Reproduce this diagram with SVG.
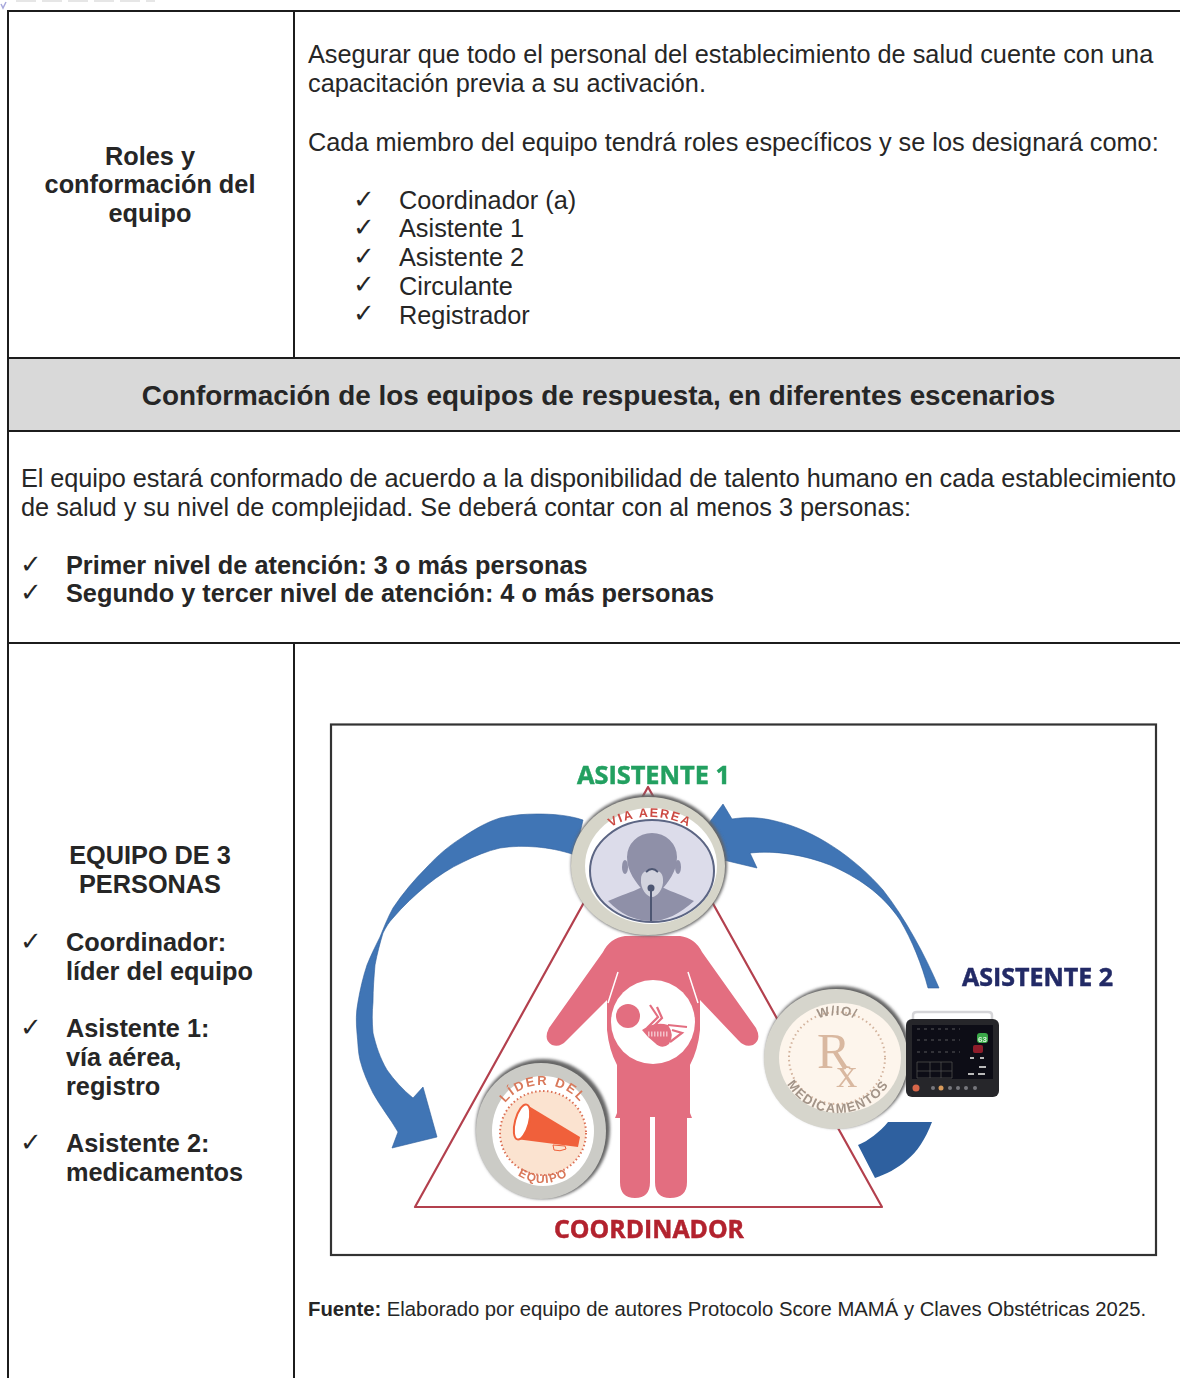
<svg xmlns="http://www.w3.org/2000/svg" xmlns:xlink="http://www.w3.org/1999/xlink" width="1180" height="1378" viewBox="0 0 1180 1378">
<style>
text{font-family:"Liberation Sans",Arial,sans-serif;fill:#262626}
.t{font-size:25.3px}
.b{font-size:25.3px;font-weight:700}
.c{text-anchor:middle}
.k{font-family:"DejaVu Sans",sans-serif;font-size:26px;fill:#262626}
.grid{stroke:#1c1c1c;stroke-width:2;fill:none}
.lab{font-family:"Open Sans",sans-serif;font-weight:700;font-size:25px;stroke-width:.5}
.arc{font-family:"Liberation Sans",sans-serif;font-weight:700}
.blue{fill:#3f74b5;stroke:#2f5f9c;stroke-width:.6}
</style>
<defs>
<filter id="soft" x="-5%" y="-5%" width="110%" height="110%"><feGaussianBlur stdDeviation="0.55"/></filter>
<filter id="shade" x="-20%" y="-20%" width="140%" height="140%"><feGaussianBlur stdDeviation="1.6"/></filter>
<path id="a1" d="M596 850A54 33 0 0 1 704 850"/>
<path id="a2" d="M498 1125A45 40 0 0 1 588 1125"/>
<path id="a3" d="M497 1135A46 48 0 0 0 589 1135"/>
<path id="a4" d="M790 1060A47 45 0 0 1 884 1060"/>
<path id="a5" d="M778 1052A60 61 0 0 0 898 1052"/>
</defs>
<rect width="1180" height="1378" fill="#fff"/>
<g id="scan-edge"><path d="M16 1H155" stroke="#e6e6e6" stroke-width="2" stroke-dasharray="20 6"/><path d="M1 4L3 8L6 2" stroke="#a9a9dc" stroke-width="1.500" fill="none"/></g>
<g id="table">
<rect x="8" y="359" width="1172" height="72" fill="#d9d9d9"/>
<path class="grid" d="M1180 11H8V1378M294 11V358M8 358H1180M8 431H1180M8 643H1180M294 643V1378"/>
</g>
<g id="roles">
<text class="b c" x="150" y="165">Roles y</text>
<text class="b c" x="150" y="193">conformación del</text>
<text class="b c" x="150" y="222">equipo</text>
<text class="t" x="308" y="63">Asegurar que todo el personal del establecimiento de salud cuente con una</text>
<text class="t" x="308" y="92">capacitación previa a su activación.</text>
<text class="t" x="308" y="151">Cada miembro del equipo tendrá roles específicos y se los designará como:</text>
<text class="k" x="353" y="208">✓</text><text class="t" x="399" y="209">Coordinador (a)</text>
<text class="k" x="353" y="236">✓</text><text class="t" x="399" y="237">Asistente 1</text>
<text class="k" x="353" y="265">✓</text><text class="t" x="399" y="266">Asistente 2</text>
<text class="k" x="353" y="293">✓</text><text class="t" x="399" y="295">Circulante</text>
<text class="k" x="353" y="322">✓</text><text class="t" x="399" y="324">Registrador</text>
</g>
<g id="band">
<text class="c" x="598.500" y="405" font-size="27.870" font-weight="700">Conformación de los equipos de respuesta, en diferentes escenarios</text>
</g>
<g id="intro">
<text class="t" x="21" y="487" textLength="1155">El equipo estará conformado de acuerdo a la disponibilidad de talento humano en cada establecimiento</text>
<text class="t" x="21" y="516">de salud y su nivel de complejidad. Se deberá contar con al menos 3 personas:</text>
<text class="k" x="20" y="573">✓</text><text class="b" x="66" y="574">Primer nivel de atención: 3 o más personas</text>
<text class="k" x="20" y="601">✓</text><text class="b" x="66" y="602">Segundo y tercer nivel de atención: 4 o más personas</text>
</g>
<g id="team">
<text class="b c" x="150" y="864">EQUIPO DE 3</text>
<text class="b c" x="150" y="893">PERSONAS</text>
<text class="k" x="20" y="950">✓</text><text class="b" x="66" y="951">Coordinador:</text>
<text class="b" x="66" y="980">líder del equipo</text>
<text class="k" x="20" y="1036">✓</text><text class="b" x="66" y="1037">Asistente 1:</text>
<text class="b" x="66" y="1066">vía aérea,</text>
<text class="b" x="66" y="1095">registro</text>
<text class="k" x="20" y="1151">✓</text><text class="b" x="66" y="1152">Asistente 2:</text>
<text class="b" x="66" y="1181">medicamentos</text>
</g>
<g id="figure">
<rect x="331" y="724.500" width="825" height="530.500" fill="#fff" stroke="#333" stroke-width="2.200"/>
<g filter="url(#soft)">
<g id="connectors">
<path id="triangle" d="M648 787L415 1207H882Z" fill="none" stroke="#b3404e" stroke-width="2.200" stroke-linejoin="round"/>
<path id="arrow-left" class="blue" d="M583 820C568 815 552 814 537 814C524 814 512 815 500 818C487 822 475 829 463 837C450 845 438 855 427 867C414 880 403 893 393 908C388 917 384 927 380 937C375 947 371 955 367 965C363 977 360 990 358 1002C356 1012 356 1022 357 1033C358 1042 358 1052 360 1060C363 1072 368 1083 373 1093C380 1106 390 1118 398 1132L392 1148L437 1137L423 1087L413 1098C403 1090 394 1080 387 1070C380 1058 376 1046 373 1033C372 1022 372 1012 373 1002C373 989 374 977 375 965C377 954 380 943 383 933C386 927 389 922 393 918C403 906 415 895 427 885C438 876 450 868 463 862C475 856 487 851 500 848C512 846 525 846 537 847C548 848 560 850 575 855Z"/>
<path id="arrow-right" class="blue" d="M700 835L723 804L732 819C745 817 760 817 775 821C815 830 855 858 883 890C905 918 925 955 939 988H928C922 965 912 940 900 920C882 893 857 877 830 865C805 855 775 850 750 853L757 868L715 858Z"/>
<path id="arrow-low" fill="#2f619f" d="M888 1122H932C925 1140 917 1152 907 1160C897 1169 886 1174 875 1178L858 1145C868 1141 880 1132 888 1122Z"/>
</g>
<g id="body">
<path fill="#e36e80" d="M625 936H680Q695 938 702 952L756 1028Q762 1040 753 1045Q745 1048 738 1040L700 1000V1030Q698 1050 690 1065V1113L692 1118L687 1118V1182Q687 1198 670 1198Q655 1198 655 1182V1117H650V1182Q650 1198 635 1198Q620 1198 620 1182V1118L615 1118L617 1113V1065Q609 1050 607 1030V1000L567 1040Q560 1048 552 1045Q543 1040 549 1028L603 952Q610 938 625 936Z"/>
<path d="M618 972L608 1003M688 972L698 1003" stroke="#fff" stroke-width="1.500" fill="none"/>
<circle cx="653" cy="1022" r="42" fill="#fff"/>
<ellipse cx="628" cy="1016" rx="12" ry="12" fill="#e36e80"/>
<path d="M642 1030Q655 1021 668 1025Q675 1035 669 1044Q662 1050 655 1043Q648 1038 642 1030Z" fill="#e36e80"/>
<path d="M650 1005L658 1017L647 1028M657 1007L662 1018L654 1026M668 1025L687 1027M672 1030L682 1033L670 1042" fill="none" stroke="#e36e80" stroke-width="2.200"/>
<path d="M648 1034H668" stroke="#f3c2ca" stroke-width="5" stroke-dasharray="1.500 1.500"/>
</g>
<g id="asistente-1">
<ellipse cx="649" cy="865" rx="78" ry="71" fill="#666" filter="url(#shade)"/>
<ellipse cx="648" cy="866" rx="77" ry="69" fill="#d6d5c9"/>
<ellipse cx="651" cy="866" rx="66" ry="58" fill="#fff"/>
<ellipse cx="652" cy="871" rx="62" ry="51" fill="#dcdcea" stroke="#5b6583" stroke-width="2"/>
<path d="M608 901C622 895 632 892 640 888H664C672 892 682 895 694 901C680 914 665 921 652 921C635 921 620 914 608 901Z" fill="#8f90a8"/>
<ellipse cx="625" cy="867" rx="3" ry="7" fill="#8f90a8"/>
<ellipse cx="678" cy="867" rx="3" ry="7" fill="#8f90a8"/>
<path d="M627 857A25 24 0 0 1 677 857C677 872 668 882 660 892H644C636 882 627 872 627 857Z" fill="#8f90a8"/>
<path d="M641 879C641 866 663 866 663 879C664 889 657 897 652 897C647 897 640 889 641 879Z" fill="#d2d3de"/>
<path d="M646 872Q652 866 658 872M651 887V921" fill="none" stroke="#4d5672" stroke-width="2"/>
<circle cx="651" cy="888" r="3.500" fill="#4d5672"/>
<text class="arc" font-size="12.500" style="fill:#cc4a42" letter-spacing="1.600"><textPath xlink:href="#a1" href="#a1" startOffset="50%" text-anchor="middle">VIA AEREA</textPath></text>
</g>
<g id="lider">
<ellipse cx="543" cy="1129" rx="67" ry="70" fill="#666" filter="url(#shade)"/>
<ellipse cx="541" cy="1131" rx="65" ry="68" fill="#cbcbc6"/>
<ellipse cx="543" cy="1131" rx="51" ry="55" fill="#fff"/>
<ellipse cx="543" cy="1133" rx="43" ry="42" fill="#fbe3d0" stroke="#dc7054" stroke-width="2" stroke-dasharray="1.500 2.500"/>
<path d="M527 1105L580 1137L578 1147L516 1139Z" fill="#f0603a"/>
<path d="M553 1145L554 1150Q560 1152 566 1149L565 1146Z" fill="#fbe3d0" stroke="#f0603a"/>
<ellipse cx="522" cy="1122" rx="7" ry="18" transform="rotate(15 522 1122)" fill="#fff" stroke="#f0603a" stroke-width="2"/>
<text class="arc" font-size="13" style="fill:#d9785a" letter-spacing="2"><textPath xlink:href="#a2" href="#a2" startOffset="50%" text-anchor="middle">LÍDER DEL</textPath></text>
<text class="arc" font-size="12" style="fill:#d9785a" letter-spacing="1.200"><textPath xlink:href="#a3" href="#a3" startOffset="50%" text-anchor="middle">EQUIPO</textPath></text>
</g>
<g id="asistente-2">
<ellipse cx="838" cy="1057" rx="73" ry="71" fill="#666" filter="url(#shade)"/>
<ellipse cx="836" cy="1059" rx="72" ry="70" fill="#d6d5cc"/>
<ellipse cx="840" cy="1058" rx="61" ry="55" fill="#fdf5ec"/>
<ellipse cx="837" cy="1058" rx="48" ry="46" fill="none" stroke="#d2b29c" stroke-width="2" stroke-dasharray="1.500 3"/>
<text x="817" y="1068" font-size="50" style="font-family:'Liberation Serif',serif;fill:#d9b8a0">R<tspan font-size="42" dy="19" dx="-14">x</tspan></text>
<text class="arc" font-size="13" style="fill:#a39488" letter-spacing="1"><textPath xlink:href="#a4" href="#a4" startOffset="50%" text-anchor="middle">W/IO/</textPath></text>
<text class="arc" font-size="13" style="fill:#a39488" letter-spacing="1.300"><textPath xlink:href="#a5" href="#a5" startOffset="50%" text-anchor="middle">MEDICAMENTOS</textPath></text>
<path d="M913 1020V1015Q913 1012 917 1012H988Q992 1012 992 1015V1020" fill="none" stroke="#d5d5d8" stroke-width="2.500"/>
<rect x="906" y="1019" width="93" height="78" rx="6" fill="#27282c"/>
<rect x="912" y="1025" width="81" height="54" fill="#101114"/>
<path d="M917 1029H960M917 1040H960M917 1052H960" stroke="#50515a" stroke-width="1" stroke-dasharray="3 4" fill="none"/>
<path d="M917 1062H952M917 1071H952M917 1078H952M917 1062V1078M930 1062V1078M941 1062V1078M952 1062V1078" stroke="#4b4c52" stroke-width=".8" fill="none"/>
<rect x="977" y="1033" width="11" height="10" rx="3" fill="#3aa84a"/>
<text x="978" y="1041.500" font-size="8" font-weight="700" style="fill:#d8f5d8">63</text>
<rect x="973" y="1045" width="10" height="8" rx="2" fill="#8f1f29"/>
<path d="M970 1058H974M980 1058H984M979 1067H986M968 1074H974M978 1074H985" stroke="#b9b9b9" stroke-width="2"/>
<g fill="#77777c"><circle cx="916" cy="1088" r="3.500" fill="#d8664a"/><circle cx="933" cy="1088" r="2"/><circle cx="941" cy="1088" r="2.500" fill="#d89a5a"/><circle cx="950" cy="1088" r="2"/><circle cx="958" cy="1088" r="2"/><circle cx="966" cy="1088" r="2"/><circle cx="975" cy="1088" r="2"/></g>
</g>
<g id="labels">
<text class="lab" x="577" y="784" textLength="153" lengthAdjust="spacingAndGlyphs" style="fill:#22a060;stroke:#22a060">ASISTENTE 1</text>
<text class="lab" x="962" y="986" textLength="151" lengthAdjust="spacingAndGlyphs" style="fill:#232a66;stroke:#232a66">ASISTENTE 2</text>
<text class="lab" x="554" y="1238" textLength="190" lengthAdjust="spacingAndGlyphs" style="fill:#b2222e;stroke:#b2222e">COORDINADOR</text>
</g>
</g>
<text x="308" y="1316" font-size="20.270"><tspan font-weight="700">Fuente:</tspan> Elaborado por equipo de autores Protocolo Score MAMÁ y Claves Obstétricas 2025.</text>
</g>
</svg>
